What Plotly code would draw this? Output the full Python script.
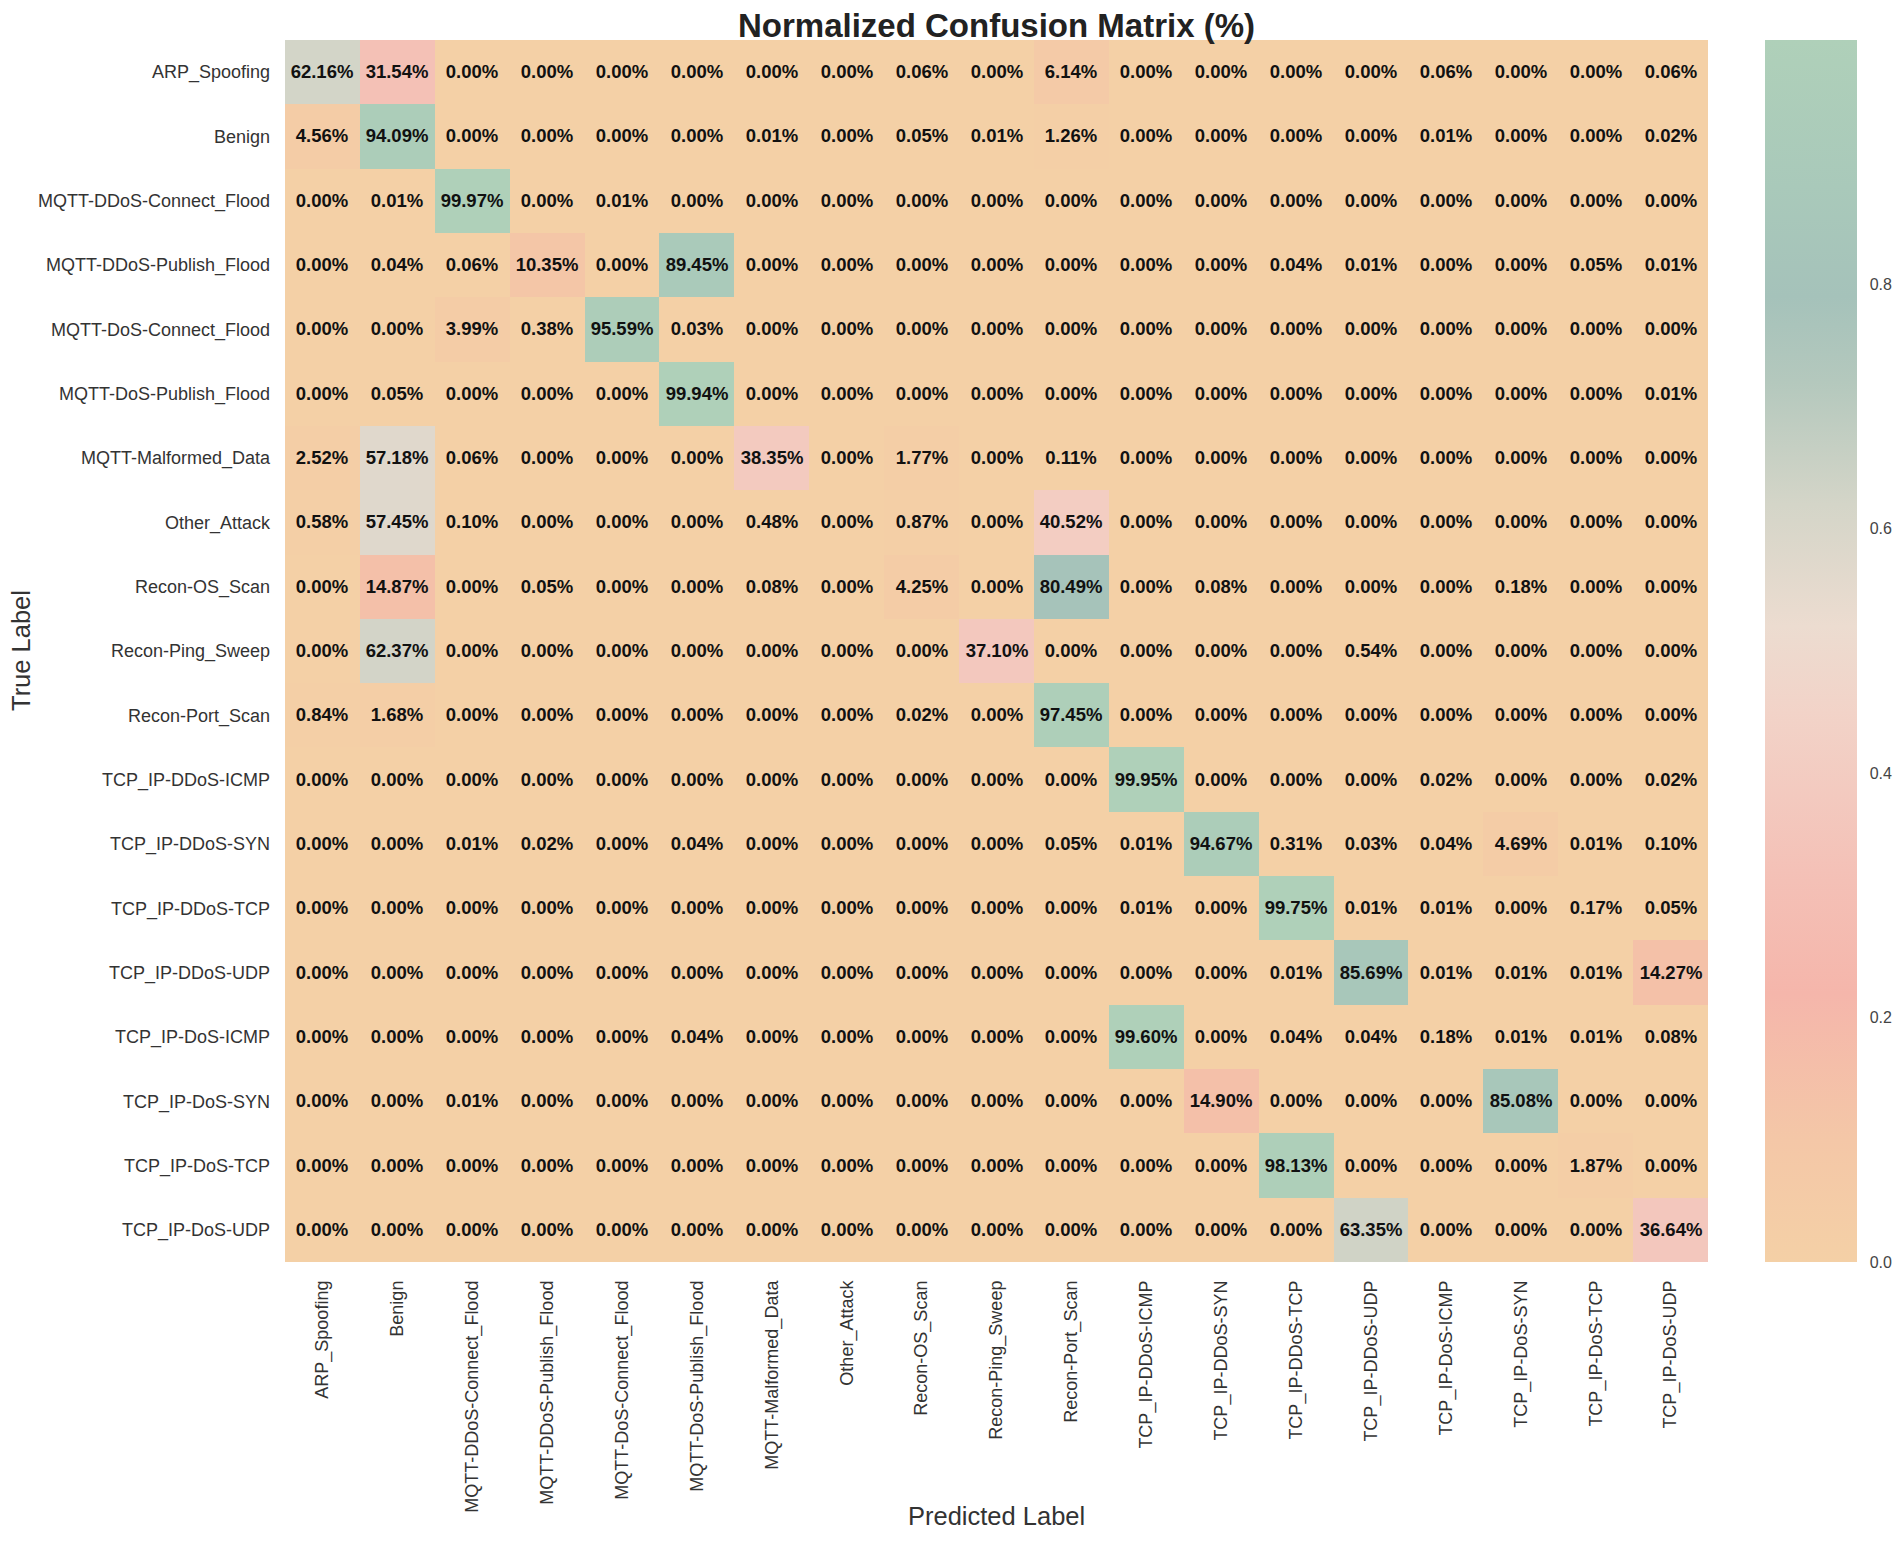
import plotly.graph_objects as go

# class names (same order for true / predicted)
labels = ['ARP_Spoofing', 'Benign', 'MQTT-DDoS-Connect_Flood', 'MQTT-DDoS-Publish_Flood',
          'MQTT-DoS-Connect_Flood', 'MQTT-DoS-Publish_Flood', 'MQTT-Malformed_Data',
          'Other_Attack', 'Recon-OS_Scan', 'Recon-Ping_Sweep', 'Recon-Port_Scan',
          'TCP_IP-DDoS-ICMP', 'TCP_IP-DDoS-SYN', 'TCP_IP-DDoS-TCP', 'TCP_IP-DDoS-UDP',
          'TCP_IP-DoS-ICMP', 'TCP_IP-DoS-SYN', 'TCP_IP-DoS-TCP', 'TCP_IP-DoS-UDP']

# rows of the normalized matrix, in percent
arp_spoofing       = [62.16, 31.54, 0, 0, 0, 0, 0, 0, 0.06, 0, 6.14, 0, 0, 0, 0, 0.06, 0, 0, 0.06]
benign             = [4.56, 94.09, 0, 0, 0, 0, 0.01, 0, 0.05, 0.01, 1.26, 0, 0, 0, 0, 0.01, 0, 0, 0.02]
mqtt_ddos_connect  = [0, 0.01, 99.97, 0, 0.01, 0, 0, 0, 0, 0, 0, 0, 0, 0, 0, 0, 0, 0, 0]
mqtt_ddos_publish  = [0, 0.04, 0.06, 10.35, 0, 89.45, 0, 0, 0, 0, 0, 0, 0, 0.04, 0.01, 0, 0, 0.05, 0.01]
mqtt_dos_connect   = [0, 0, 3.99, 0.38, 95.59, 0.03, 0, 0, 0, 0, 0, 0, 0, 0, 0, 0, 0, 0, 0]
mqtt_dos_publish   = [0, 0.05, 0, 0, 0, 99.94, 0, 0, 0, 0, 0, 0, 0, 0, 0, 0, 0, 0, 0.01]
mqtt_malformed     = [2.52, 57.18, 0.06, 0, 0, 0, 38.35, 0, 1.77, 0, 0.11, 0, 0, 0, 0, 0, 0, 0, 0]
other_attack       = [0.58, 57.45, 0.10, 0, 0, 0, 0.48, 0, 0.87, 0, 40.52, 0, 0, 0, 0, 0, 0, 0, 0]
recon_os_scan      = [0, 14.87, 0, 0.05, 0, 0, 0.08, 0, 4.25, 0, 80.49, 0, 0.08, 0, 0, 0, 0.18, 0, 0]
recon_ping_sweep   = [0, 62.37, 0, 0, 0, 0, 0, 0, 0, 37.10, 0, 0, 0, 0, 0.54, 0, 0, 0, 0]
recon_port_scan    = [0.84, 1.68, 0, 0, 0, 0, 0, 0, 0.02, 0, 97.45, 0, 0, 0, 0, 0, 0, 0, 0]
tcp_ddos_icmp      = [0, 0, 0, 0, 0, 0, 0, 0, 0, 0, 0, 99.95, 0, 0, 0, 0.02, 0, 0, 0.02]
tcp_ddos_syn       = [0, 0, 0.01, 0.02, 0, 0.04, 0, 0, 0, 0, 0.05, 0.01, 94.67, 0.31, 0.03, 0.04, 4.69, 0.01, 0.10]
tcp_ddos_tcp       = [0, 0, 0, 0, 0, 0, 0, 0, 0, 0, 0, 0.01, 0, 99.75, 0.01, 0.01, 0, 0.17, 0.05]
tcp_ddos_udp       = [0, 0, 0, 0, 0, 0, 0, 0, 0, 0, 0, 0, 0, 0.01, 85.69, 0.01, 0.01, 0.01, 14.27]
tcp_dos_icmp       = [0, 0, 0, 0, 0, 0.04, 0, 0, 0, 0, 0, 99.60, 0, 0.04, 0.04, 0.18, 0.01, 0.01, 0.08]
tcp_dos_syn        = [0, 0, 0.01, 0, 0, 0, 0, 0, 0, 0, 0, 0, 14.90, 0, 0, 0, 85.08, 0, 0]
tcp_dos_tcp        = [0, 0, 0, 0, 0, 0, 0, 0, 0, 0, 0, 0, 0, 98.13, 0, 0, 0, 1.87, 0]
tcp_dos_udp        = [0, 0, 0, 0, 0, 0, 0, 0, 0, 0, 0, 0, 0, 0, 63.35, 0, 0, 0, 36.64]

rows = [arp_spoofing, benign, mqtt_ddos_connect, mqtt_ddos_publish, mqtt_dos_connect,
        mqtt_dos_publish, mqtt_malformed, other_attack, recon_os_scan, recon_ping_sweep,
        recon_port_scan, tcp_ddos_icmp, tcp_ddos_syn, tcp_ddos_tcp, tcp_ddos_udp,
        tcp_dos_icmp, tcp_dos_syn, tcp_dos_tcp, tcp_dos_udp]

cbar_ticks = [0.0, 0.2, 0.4, 0.6, 0.8]

z = [[v / 100 for v in r] for r in rows]
txt = [['%.2f%%' % v for v in r] for r in rows]
zmax = max(max(r) for r in z)

# peach -> salmon -> cream -> sage -> mint
cscale = [
    [0.00, '#F4D0A6'],
    [0.10, '#F4C7A7'],
    [0.22, '#F5B6AB'],
    [0.32, '#F4C1B7'],
    [0.45, '#F2D3C8'],
    [0.52, '#ECDCD0'],
    [0.62, '#D4D5C8'],
    [0.72, '#B4C8BD'],
    [0.79, '#A5C2BA'],
    [0.88, '#A9C9BA'],
    [1.00, '#AFD0B9'],
]

FONT = 'Liberation Sans, Arial, sans-serif'

# the page body has an 8px margin; keep the figure inside the window
W, H = 1894, 1526
L, R, T, B = 277, 194, 32, 272
PW = W - L - R

fig = go.Figure()
fig.add_trace(go.Heatmap(
    z=z, x=labels, y=labels, text=txt, texttemplate='%{text}',
    textfont=dict(family=FONT, size=18.5, color='#111111', weight='bold'),
    colorscale=cscale, zmin=0, zmax=zmax, hoverongaps=False,
    colorbar=dict(
        x=(1757 - L) / PW, xanchor='left', xpad=0, ypad=0,
        thickness=92, thicknessmode='pixels', len=1, lenmode='fraction',
        y=0.5, yanchor='middle', outlinewidth=0,
        tickvals=cbar_ticks, ticktext=['%.1f' % t for t in cbar_ticks],
        ticks='outside', ticklen=10, tickcolor='rgba(0,0,0,0)',
        tickfont=dict(family=FONT, size=16, color='#444444'),
    ),
))

fig.update_layout(
    width=W, height=H,
    margin=dict(l=L, r=R, t=T, b=B, autoexpand=False),
    paper_bgcolor='white', plot_bgcolor='white',
    font=dict(family=FONT),
    title=dict(text='<b>Normalized Confusion Matrix (%)</b>', x=0.5, xref='paper',
               y=1 - 17 / H, yref='container', yanchor='middle',
               font=dict(family=FONT, size=33, color='#222222')),
)
fig.update_xaxes(type='category', tickangle=-90, showgrid=False, zeroline=False,
                 showline=False, ticks='', ticklabelstandoff=14,
                 tickfont=dict(family=FONT, size=18, color='#333333'))
fig.update_yaxes(type='category', autorange='reversed', showgrid=False, zeroline=False,
                 showline=False, ticks='', ticklabelstandoff=14,
                 tickfont=dict(family=FONT, size=18, color='#333333'))

# axis titles
fig.add_annotation(text='Predicted Label', xref='paper', yref='paper', x=0.5, y=0,
                   yshift=-(1508 - (H - B)), yanchor='middle', showarrow=False,
                   font=dict(family=FONT, size=25.5, color='#333333'))
fig.add_annotation(text='True Label', xref='paper', yref='paper', x=0, y=0.5,
                   xshift=-(L - 13), xanchor='center', textangle=-90, showarrow=False,
                   font=dict(family=FONT, size=25.5, color='#333333'))

fig.write_html('out.html')
